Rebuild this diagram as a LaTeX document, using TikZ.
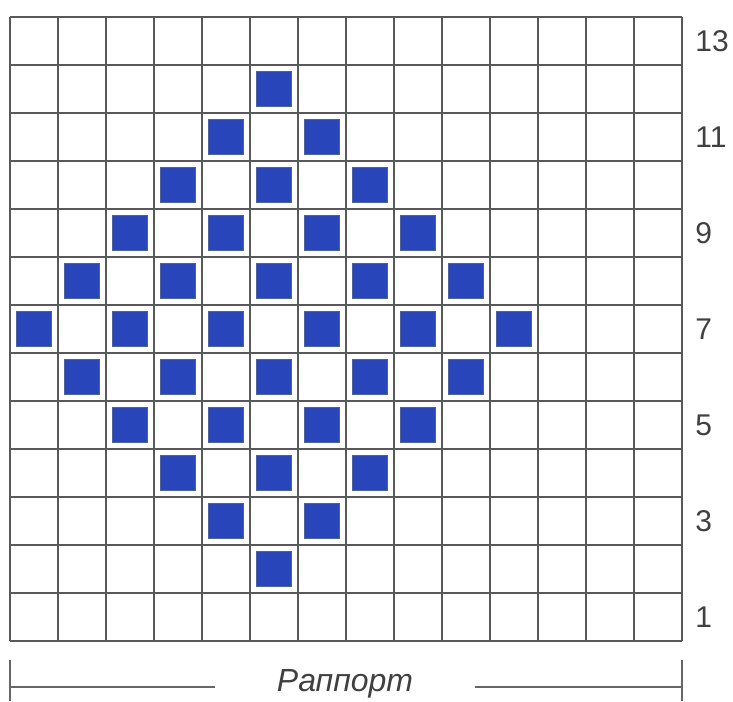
\documentclass[tikz,border=0pt]{standalone}
\usepackage{fontspec}
\setmainfont{Liberation Sans}
\definecolor{chartblue}{RGB}{40,70,185}
\begin{document}
\begin{tikzpicture}[
x=24pt, y=24pt,
cell/.style={fill=chartblue, draw=chartblue!55!gray, line width=0.5pt},
gridline/.style={draw=black!65, line width=0.9pt},
rowno/.style={anchor=west, inner sep=0pt, text=black!75, font=\fontsize{15}{18}\selectfont},
bracket/.style={draw=black!60, line width=0.7pt}
]
\useasboundingbox (-0.2083,-1.25) rectangle (15.0625,13.354);

% filled cells
\foreach \c in {1,...,14}{
  \foreach \r in {1,...,13}{
    \pgfmathtruncatemacro{\d}{abs(\c-6)+abs(\r-7)}
    \pgfmathtruncatemacro{\p}{mod(\c+\r,2)}
    \ifnum\d<6 \ifnum\p=0
      \path[cell] (\c-0.87,\r-0.87) rectangle (\c-0.13,\r-0.13);
    \fi\fi
  }
}

% grid
\draw[gridline, step=24pt] (0,0) grid (14,13);

% row numbers
\foreach \r in {1,3,...,13}
  \node[rowno] (row\r) at (14.27,\r-0.5) {\r};

% rapport
\coordinate (lt) at (0,-0.4);
\coordinate (lb) at (0,-1.25);
\coordinate (rt) at (14,-0.4);
\coordinate (rb) at (14,-1.25);
\coordinate (lm) at (0,-0.96);
\coordinate (rm) at (14,-0.96);
\node[minimum width=130pt, inner xsep=0pt, text=black!75,
  font=\itshape\fontsize{16}{19}\selectfont] (rap) at (6.98,-0.9) {Раппорт};
\draw[bracket] (lt) -- (lb);
\draw[bracket] (rt) -- (rb);
\draw[bracket] (lm) -- (rap.west |- lm);
\draw[bracket] (rap.east |- rm) -- (rm);

\end{tikzpicture}
\end{document}
